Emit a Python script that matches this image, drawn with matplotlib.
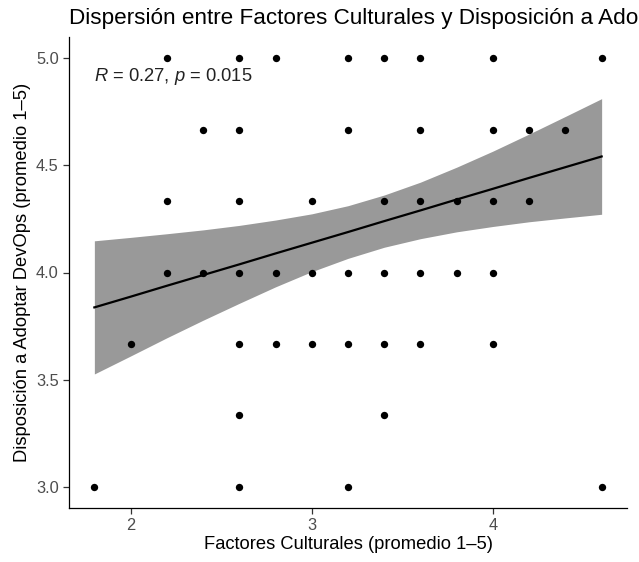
import numpy as np
import matplotlib
matplotlib.use("Agg")
import matplotlib.pyplot as plt

plt.rcParams['font.family'] = ['Liberation Sans', 'DejaVu Sans']
plt.rcParams['mathtext.fontset'] = 'custom'
plt.rcParams['mathtext.rm'] = 'Liberation Sans'
plt.rcParams['mathtext.it'] = 'Liberation Sans:italic'

# promedio de factores culturales (x) y disposición a adoptar DevOps (y)
factores = [2.2, 2.6, 2.8, 3.2, 3.4, 3.6, 4.0, 4.6,
            2.4, 2.6, 3.2, 3.6, 4.0, 4.2, 4.4,
            2.2, 2.6, 3.0, 3.4, 3.6, 3.8, 4.0, 4.2,
            2.2, 2.4, 2.6, 2.8, 3.0, 3.2, 3.4, 3.6, 3.8, 4.0,
            2.0, 2.6, 2.8, 3.0, 3.2, 3.4, 3.6, 4.0,
            2.6, 3.4,
            1.8, 2.6, 3.2, 4.6]
disposicion = [5.0] * 8 + [14 / 3] * 7 + [13 / 3] * 8 + [4.0] * 10 + \
              [11 / 3] * 8 + [10 / 3] * 2 + [3.0] * 4

# recta de regresión lineal y su intervalo de confianza (95%)
fit_x = [1.8, 2.0, 2.2, 2.4, 2.6, 2.8, 3.0, 3.2, 3.4, 3.6, 3.8, 4.0, 4.2, 4.4, 4.6]
fit_y = [3.837, 3.887, 3.938, 3.988, 4.038, 4.089, 4.139, 4.189, 4.240,
         4.290, 4.341, 4.391, 4.442, 4.492, 4.542]
ci_low = [3.526, 3.610, 3.695, 3.777, 3.856, 3.933, 4.004, 4.066, 4.118,
          4.158, 4.190, 4.215, 4.237, 4.255, 4.272]
ci_high = [4.148, 4.164, 4.181, 4.199, 4.220, 4.245, 4.274, 4.312, 4.362,
           4.422, 4.492, 4.567, 4.647, 4.729, 4.812]

r_val = 0.27
p_val = 0.015

fig = plt.figure(figsize=(6.39, 5.62), dpi=100)
ax = fig.add_axes([69 / 639, 1 - 508 / 562, (627 - 69) / 639, (508 - 37) / 562])

ax.fill_between(fit_x, ci_low, ci_high, color='#999999', linewidth=0, zorder=1)
ax.plot(fit_x, fit_y, color='black', linewidth=1.6, zorder=2)
ax.scatter(factores, disposicion, s=28, color='black', linewidths=0, zorder=3)

ax.text(1.8, 4.894, r'$\it{R}$ = %.2f, $\it{p}$ = %.3f' % (r_val, p_val),
        fontsize=13.2, color='#222222', ha='left', va='baseline')

ax.set_xlim(1.66, 4.74)
ax.set_ylim(2.9, 5.1)
ax.set_xticks([2, 3, 4])
ax.set_yticks([3.0, 3.5, 4.0, 4.5, 5.0])
ax.set_yticklabels(['3.0', '3.5', '4.0', '4.5', '5.0'])

for side in ['top', 'right']:
    ax.spines[side].set_visible(False)
for side in ['left', 'bottom']:
    ax.spines[side].set_linewidth(0.9)
    ax.spines[side].set_color('black')
ax.tick_params(axis='both', length=4.3, width=0.9, color='#333333',
               labelsize=11.8, labelcolor='#4D4D4D', pad=3)

ax.set_xlabel('Factores Culturales (promedio 1–5)', fontsize=13.2, labelpad=2)
ax.set_ylabel('Disposición a Adoptar DevOps (promedio 1–5)', fontsize=13.2, labelpad=4)
# el título es más ancho que la figura y queda cortado por la derecha
fig.text(69 / 639, 1 - 24 / 562,
         'Dispersión entre Factores Culturales y Disposición a Adoptar DevOps',
         fontsize=16.2, ha='left', va='baseline')

plt.savefig('out.png', dpi=100)
